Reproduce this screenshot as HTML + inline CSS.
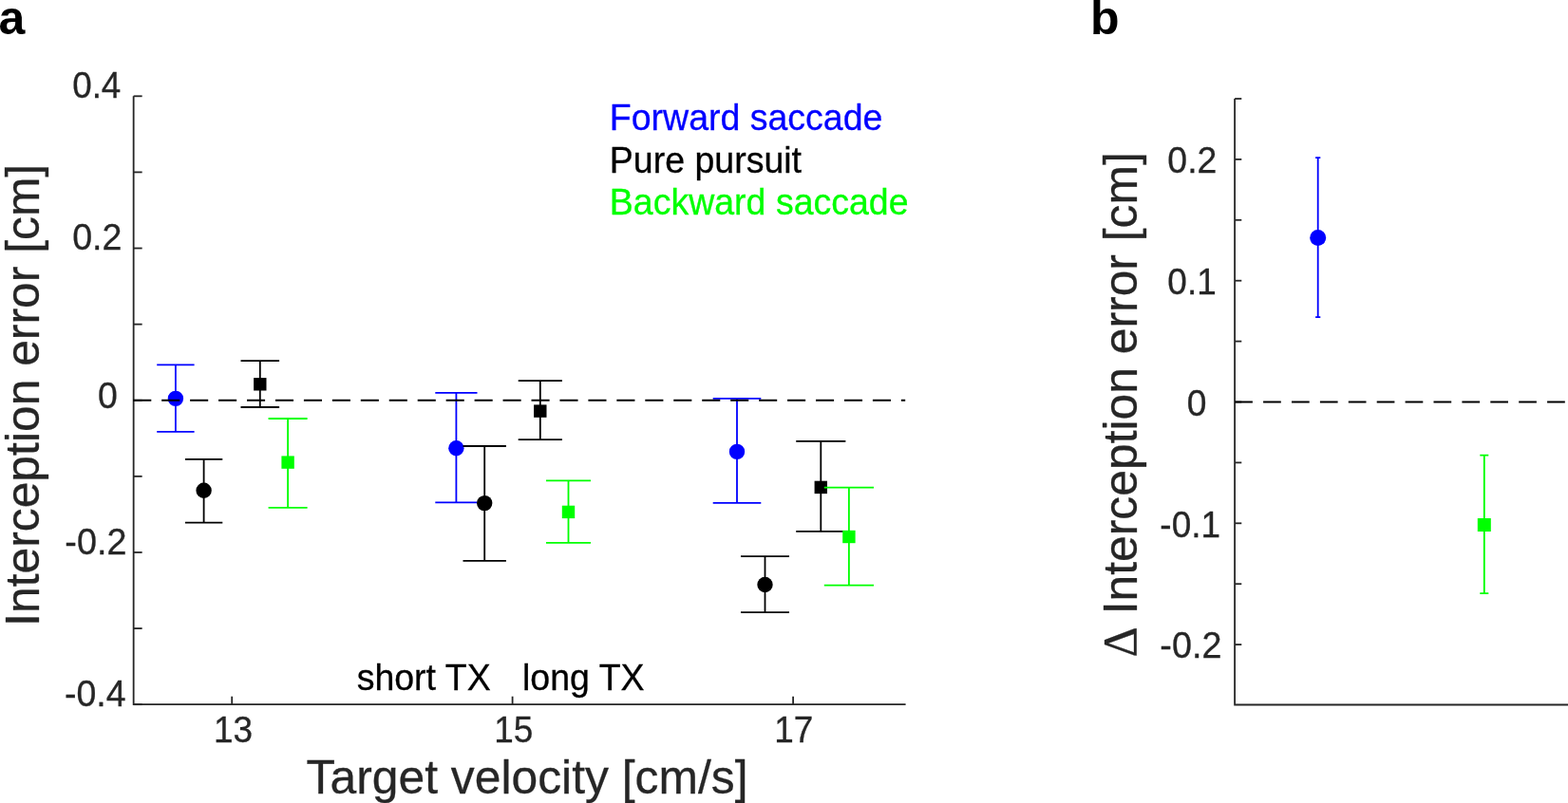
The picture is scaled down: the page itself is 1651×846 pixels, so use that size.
<!DOCTYPE html>
<html><head><meta charset="utf-8"><title>Interception error figure</title>
<style>html,body{margin:0;padding:0;background:#fff;}svg{display:block;}</style></head>
<body><svg width="1651" height="846" viewBox="0 0 1651 846">
<rect width="1651" height="846" fill="#fff"/>
<g stroke="#262626" stroke-width="1.8" fill="none" stroke-linecap="butt">
<path d="M140.65,101.3 V742.2 H953.6" stroke-linecap="butt" stroke-linejoin="miter"/>
<path d="M140.65,101.31 H149.65"/>
<path d="M140.65,181.42 H149.65"/>
<path d="M140.65,261.53 H149.65"/>
<path d="M140.65,341.64 H149.65"/>
<path d="M140.65,421.75 H149.65"/>
<path d="M140.65,501.86 H149.65"/>
<path d="M140.65,581.97 H149.65"/>
<path d="M140.65,662.08 H149.65"/>
<path d="M140.65,742.19 H149.65"/>
<path d="M244.2,742.2 V733.7"/>
<path d="M539.6,742.2 V733.7"/>
<path d="M835.1,742.2 V733.7"/>
</g>
<g stroke="#0000ff" stroke-width="1.8" fill="none"><path d="M184.9,384.4 V454.8 M165.20,384.4 H204.60 M165.20,454.8 H204.60"/></g>
<circle cx="184.9" cy="419.9" r="8.2" fill="#0000ff"/>
<g stroke="#000000" stroke-width="1.8" fill="none"><path d="M214.6,483.8 V550.6 M194.90,483.8 H234.30 M194.90,550.6 H234.30"/></g>
<circle cx="214.6" cy="516.8" r="8.2" fill="#000000"/>
<g stroke="#000000" stroke-width="1.8" fill="none"><path d="M273.8,380.1 V429.0 M253.50,380.1 H294.10 M253.50,429.0 H294.10"/></g>
<rect x="267.10" y="398.10" width="13.4" height="13.4" fill="#000000"/>
<g stroke="#00ff00" stroke-width="1.8" fill="none"><path d="M303.1,441.0 V534.9 M282.60,441.0 H323.60 M282.60,534.9 H323.60"/></g>
<rect x="296.40" y="480.40" width="13.4" height="13.4" fill="#00ff00"/>
<g stroke="#0000ff" stroke-width="1.8" fill="none"><path d="M480.4,413.8 V529.3 M458.30,413.8 H502.50 M458.30,529.3 H502.50"/></g>
<circle cx="480.4" cy="472.3" r="8.2" fill="#0000ff"/>
<g stroke="#000000" stroke-width="1.8" fill="none"><path d="M510.2,470.0 V590.9 M487.50,470.0 H532.90 M487.50,590.9 H532.90"/></g>
<circle cx="510.2" cy="530.1" r="8.2" fill="#000000"/>
<g stroke="#000000" stroke-width="1.8" fill="none"><path d="M568.8,401.1 V463.2 M545.70,401.1 H591.90 M545.70,463.2 H591.90"/></g>
<rect x="562.10" y="426.40" width="13.4" height="13.4" fill="#000000"/>
<g stroke="#00ff00" stroke-width="1.8" fill="none"><path d="M598.5,506.4 V571.9 M575.00,506.4 H622.00 M575.00,571.9 H622.00"/></g>
<rect x="591.80" y="532.70" width="13.4" height="13.4" fill="#00ff00"/>
<g stroke="#0000ff" stroke-width="1.8" fill="none"><path d="M776.0,419.9 V529.8 M750.70,419.9 H801.30 M750.70,529.8 H801.30"/></g>
<circle cx="776.0" cy="475.9" r="8.2" fill="#0000ff"/>
<g stroke="#000000" stroke-width="1.8" fill="none"><path d="M805.5,586.2 V645.2 M780.00,586.2 H831.00 M780.00,645.2 H831.00"/></g>
<circle cx="805.5" cy="616.0" r="8.2" fill="#000000"/>
<g stroke="#000000" stroke-width="1.8" fill="none"><path d="M864.3,464.8 V559.8 M838.20,464.8 H890.40 M838.20,559.8 H890.40"/></g>
<rect x="857.60" y="506.70" width="13.4" height="13.4" fill="#000000"/>
<g stroke="#00ff00" stroke-width="1.8" fill="none"><path d="M893.9,513.7 V616.6 M867.80,513.7 H920.00 M867.80,616.6 H920.00"/></g>
<rect x="887.20" y="558.80" width="13.4" height="13.4" fill="#00ff00"/>
<path d="M140.2,421.8 H953.2" stroke="#000" stroke-width="2" stroke-dasharray="19.1 10.85" fill="none"/>
<g font-family="'Liberation Sans', Arial, Helvetica, sans-serif" stroke-width="0.3">
<text transform="translate(76.16,103.30) scale(0.9374,1)" font-size="39.30" fill="#262626" stroke="#262626">0.4</text>
<text transform="translate(76.13,263.40) scale(0.9564,1)" font-size="39.30" fill="#262626" stroke="#262626">0.2</text>
<text transform="translate(102.94,429.60) scale(0.9529,1)" font-size="39.30" fill="#262626" stroke="#262626">0</text>
<text transform="translate(68.34,583.60) scale(0.9606,1)" font-size="39.30" fill="#262626" stroke="#262626">-0.2</text>
<text transform="translate(67.95,743.60) scale(0.9546,1)" font-size="39.30" fill="#262626" stroke="#262626">-0.4</text>
<text transform="translate(224.89,781.90) scale(0.94,1)" font-size="39.30" fill="#262626" stroke="#262626">13</text>
<text transform="translate(520.19,781.90) scale(0.94,1)" font-size="39.30" fill="#262626" stroke="#262626">15</text>
<text transform="translate(815.29,781.90) scale(0.94,1)" font-size="39.30" fill="#262626" stroke="#262626">17</text>
<text transform="translate(641.82,137.20) scale(0.9901,1)" font-size="37.88" fill="#0000ff" stroke="#0000ff">Forward saccade</text>
<text transform="translate(641.82,181.50) scale(0.9901,1)" font-size="37.88" fill="#000000" stroke="#000000">Pure pursuit</text>
<text transform="translate(641.82,225.80) scale(0.9901,1)" font-size="37.88" fill="#00ff00" stroke="#00ff00">Backward saccade</text>
<text transform="translate(375.65,727.00) scale(0.9901,1)" font-size="37.88" fill="#000000" stroke="#000000">short TX</text>
<text transform="translate(549.99,727.00) scale(0.9901,1)" font-size="37.88" fill="#000000" stroke="#000000">long TX</text>
<text transform="translate(322.60,835.50) scale(0.9901,1)" font-size="50.30" fill="#262626" stroke="#262626">Target velocity [cm/s]</text>
<text transform="translate(41.1,659.88) rotate(-90) scale(0.9901,1)" font-size="50.30" fill="#262626" stroke="#262626">Interception error [cm]</text>
<text x="-1.45" y="35.9" font-size="50" font-weight="bold" fill="#000">a</text>
<text x="1147.90" y="35.5" font-size="50" font-weight="bold" fill="#000">b</text>
<text transform="translate(1229.34,182.00) scale(0.9525,1)" font-size="39.30" fill="#262626" stroke="#262626">0.2</text>
<text transform="translate(1229.36,309.70) scale(0.94,1)" font-size="39.30" fill="#262626" stroke="#262626">0.1</text>
<text transform="translate(1249.75,437.50) scale(0.9475,1)" font-size="39.30" fill="#262626" stroke="#262626">0</text>
<text transform="translate(1221.37,565.50) scale(0.94,1)" font-size="39.30" fill="#262626" stroke="#262626">-0.1</text>
<text transform="translate(1221.34,693.00) scale(0.9606,1)" font-size="39.30" fill="#262626" stroke="#262626">-0.2</text>
<text transform="translate(1195.9,692.50) rotate(-90)" font-size="50" font-family="'Liberation Serif', 'Times New Roman', serif" fill="#262626" stroke="#262626">&#916;</text>
<text transform="translate(1196.8,647.28) rotate(-90) scale(0.9901,1)" font-size="50.30" fill="#262626" stroke="#262626">Interception error [cm]</text>
</g>
<g stroke="#262626" stroke-width="1.8" fill="none" stroke-linecap="butt">
<path d="M1300.1,104.00 V742.5 H1652" stroke-linecap="butt" stroke-linejoin="miter"/>
<path d="M1300.1,104.00 H1307.30"/>
<path d="M1300.1,167.90 H1307.30"/>
<path d="M1300.1,231.80 H1307.30"/>
<path d="M1300.1,295.70 H1307.30"/>
<path d="M1300.1,359.60 H1307.30"/>
<path d="M1300.1,423.50 H1307.30"/>
<path d="M1300.1,487.40 H1307.30"/>
<path d="M1300.1,551.30 H1307.30"/>
<path d="M1300.1,615.20 H1307.30"/>
<path d="M1300.1,679.10 H1307.30"/>
</g>
<path d="M1300.2,423.5 H1651" stroke="#000" stroke-width="2" stroke-dasharray="18.7 11.2" fill="none"/>
<g stroke="#0000ff" stroke-width="1.8" fill="none"><path d="M1387.7,166.2 V334.1 M1385.10,166.2 H1390.30 M1385.10,334.1 H1390.30"/></g>
<circle cx="1387.7" cy="250.6" r="8.5" fill="#0000ff"/>
<g stroke="#00ff00" stroke-width="1.8" fill="none"><path d="M1562.8,479.6 V625.1 M1558.30,479.6 H1567.30 M1558.30,625.1 H1567.30"/></g>
<rect x="1555.80" y="546.00" width="14" height="14" fill="#00ff00"/>
</svg></body></html>
